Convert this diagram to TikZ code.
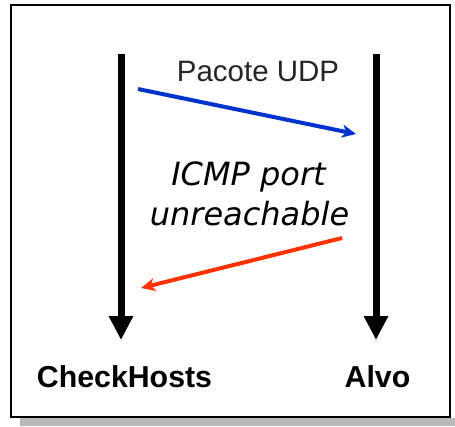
\documentclass[tikz,border=0pt]{standalone}
\usepackage{fontspec}
\setmainfont{Liberation Sans}
\newfontfamily\verd{DejaVu Sans}
\usetikzlibrary{arrows.meta}
\definecolor{udpblue}{RGB}{0,51,204}
\definecolor{icmpred}{RGB}{255,51,0}
\tikzset{
  lifeline/.style={line width=7pt,-{Triangle[length=24pt,width=23pt]}},
  msg/.style={line width=4pt,-{Stealth[length=14pt,width=13pt,inset=4pt]}},
  lbl/.style={anchor=base,inner sep=0pt,font=\fontsize{30.3}{36}\selectfont\bfseries},
  icmp/.style={anchor=base,inner sep=0pt,font=\verd\itshape\fontsize{32}{38}\selectfont},
}
\begin{document}
\begin{tikzpicture}[x=1pt,y=-1pt]
\useasboundingbox (0,0) rectangle (455,426);
\fill[white] (0,0) rectangle (455,426);
\fill[gray!55] (20,418) rectangle (455,426);
\draw[line width=1.3pt,fill=white] (11,5) rectangle (450,417);
\coordinate (ltop) at (121,54);
\coordinate (lbot) at (121,340);
\coordinate (rtop) at (376,54);
\coordinate (rbot) at (376,340);
\draw[lifeline] (ltop) -- (lbot);
\draw[lifeline] (rtop) -- (rbot);
\coordinate (bs) at (138,89);
\coordinate (be) at (356,134);
\coordinate (rs) at (342,238);
\coordinate (re) at (141,288);
\draw[msg,udpblue] (bs) -- (be);
\draw[msg,icmpred] (rs) -- (re);
\node[anchor=base,inner sep=0pt,font=\fontsize{29.5}{35}\selectfont,text=black!85] (udp) at (258,81.5) {Pacote UDP};
\node[icmp] (icmp1) at (248.5,185) {ICMP port};
\node[icmp] (icmp2) at (249.5,225) {unreachable};
\node[lbl] (ch) at (124.5,387) {CheckHosts};
\node[lbl] (alvo) at (377.5,387) {Alvo};
\end{tikzpicture}
\end{document}
